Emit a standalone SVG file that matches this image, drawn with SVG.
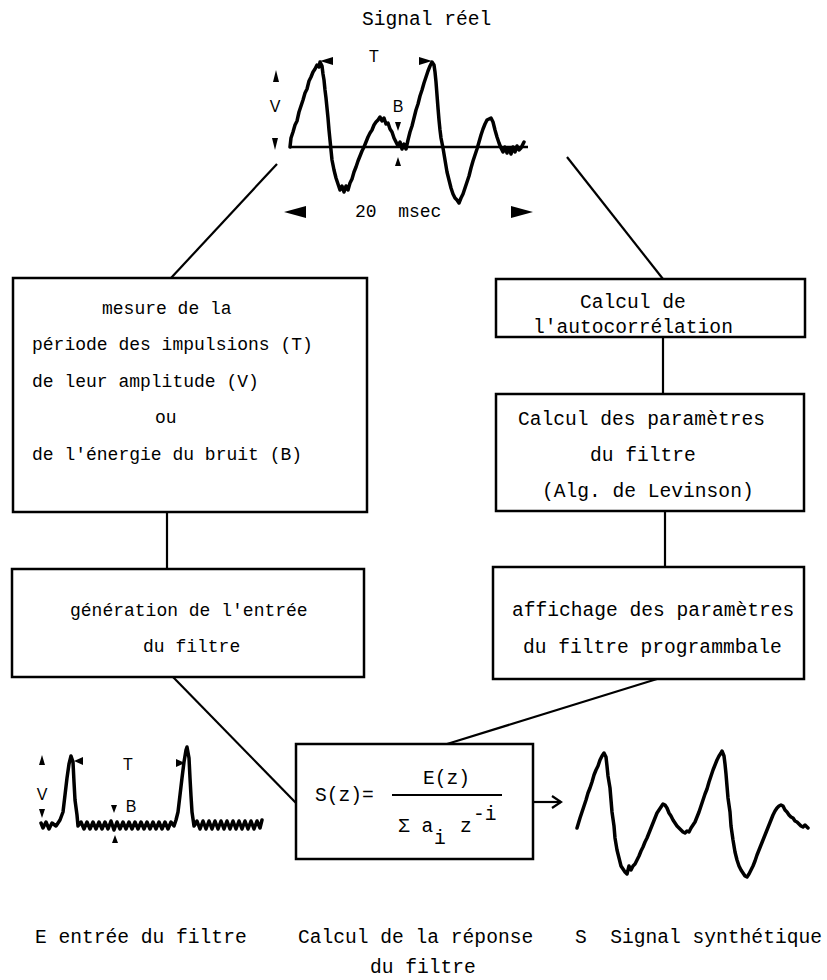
<svg xmlns="http://www.w3.org/2000/svg" width="827" height="980" viewBox="0 0 827 980">
<style>
.box{fill:none;stroke:#000;stroke-width:2.5}
.con{fill:none;stroke:#000;stroke-width:2.2}
.sig{fill:none;stroke:#000;stroke-width:3.5;stroke-linejoin:round;stroke-linecap:round}
.tl{font-family:"Liberation Mono","DejaVu Sans Mono",monospace;font-size:18px;fill:#000;white-space:pre}
.tr{font-family:"Liberation Mono","DejaVu Sans Mono",monospace;font-size:19.6px;fill:#000;white-space:pre}
.lab{font-family:"Liberation Sans",Arial,sans-serif;font-size:16px;fill:#000;text-anchor:middle}
.ah{fill:#000}
</style>
<rect width="827" height="980" fill="#fff"/>

<g id="top-signal">
<text class="tr" x="362" y="25">Signal réel</text>
<line x1="290" y1="147" x2="528" y2="147" stroke="#000" stroke-width="2.5"/>
<polyline class="sig" points="290,147 291,138 293,132 295,125 297,121 299,112 301,106 303,100 305,93 307,89 309,81 311,77 313,72 315,69 317,65 319,67 320,62 322,66 323,74 324,80 325,90 326,98 327,108 328,118 329,130 330,140 331,150 332,160 334,170 336,178 338,184 340,190 342,186 344,192 346,186 348,190 350,183 352,179 354,172 356,167 358,161 360,156 362,151 364,147 366,142 368,137 370,133 372,130 374,125 376,122 378,120 380,117 382,121 384,118 386,124 388,123 390,129 392,132 394,138 396,142 398,146 400,142 402,149 404,144 406,149 408,140 410,132 412,126 414,118 416,110 418,104 420,96 422,90 424,83 426,77 428,71 430,66 432,62 434,65 435,72 436,82 437,95 438,108 439,120 440,130 441,138 443,148 445,160 447,172 449,180 451,188 453,194 455,198 457,200 459,203 461,198 463,194 465,188 467,182 469,176 471,168 473,161 475,155 477,149 479,142 481,135 483,129 485,124 487,120 489,119 491,118 493,122 495,130 497,137 499,143 501,148 503,152 505,147 507,153 509,148 511,154 513,147 515,152 517,146 519,150 521,148 524,142"/>
<polygon class="ah" points="276,70 273,82 279,82"/>
<text class="lab" x="275" y="112">V</text>
<polygon class="ah" points="275,150 272,138 278,138"/>
<text class="lab" x="374" y="62">T</text>
<polygon class="ah" points="320,61 333,57 333,65"/>
<polygon class="ah" points="432,61 419,57 419,65"/>
<text class="lab" x="398" y="112">B</text>
<polygon class="ah" points="398,131 395,122 401,122"/>
<polygon class="ah" points="398,157 395,166 401,166"/>
<text class="tl" x="355" y="217">20  msec</text>
<polygon class="ah" points="284,212 306,206 306,218"/>
<polygon class="ah" points="533,212 511,206 511,218"/>
</g>

<g id="connectors">
<line class="con" x1="277" y1="164" x2="171" y2="278"/>
<line class="con" x1="567" y1="157" x2="663" y2="279"/>
<line class="con" x1="167" y1="512" x2="167" y2="569"/>
<line class="con" x1="663" y1="337" x2="663" y2="394"/>
<line class="con" x1="665" y1="511" x2="665" y2="567"/>
<line class="con" x1="173" y1="677" x2="296" y2="803"/>
<line class="con" x1="657" y1="679" x2="447" y2="744"/>
<line class="con" x1="534" y1="802" x2="561" y2="802"/>
<polyline class="con" points="552,796 561,802 552,808"/>
</g>

<g id="box-mesure">
<rect class="box" x="13" y="278" width="354" height="234"/>
<text class="tl" x="102" y="314">mesure de la</text>
<text class="tl" x="32" y="350">période des impulsions (T)</text>
<text class="tl" x="32" y="387">de leur amplitude (V)</text>
<text class="tl" x="155" y="423">ou</text>
<text class="tl" x="32" y="460">de l'énergie du bruit (B)</text>
</g>

<g id="box-generation">
<rect class="box" x="12" y="569" width="352" height="108"/>
<text class="tl" x="70" y="616">génération de l'entrée</text>
<text class="tl" x="143" y="652">du filtre</text>
</g>

<g id="box-autocorrelation">
<rect class="box" x="496" y="279" width="309" height="58"/>
<text class="tr" x="580" y="308">Calcul de</text>
<text class="tr" x="533" y="333">l'autocorrélation</text>
</g>

<g id="box-parametres">
<rect class="box" x="496" y="394" width="308" height="117"/>
<text class="tr" x="518" y="425">Calcul des paramètres</text>
<text class="tr" x="590" y="461">du filtre</text>
<text class="tr" x="542" y="497">(Alg. de Levinson)</text>
</g>

<g id="box-affichage">
<rect class="box" x="493" y="567" width="311" height="112"/>
<text class="tr" x="512" y="616">affichage des paramètres</text>
<text class="tr" x="523" y="653">du filtre programmbale</text>
</g>

<g id="box-formule">
<rect class="box" x="296" y="744" width="237" height="115"/>
<text class="tr" x="315" y="801">S(z)=</text>
<text class="tr" x="423" y="784">E(z)</text>
<line x1="392" y1="795" x2="502" y2="795" stroke="#000" stroke-width="2"/>
<text class="tr" x="398" y="832">Σ a</text>
<text class="tr" x="434" y="844">i</text>
<text class="tr" x="460" y="832">z</text>
<text class="tr" x="473" y="820">-i</text>
</g>

<g id="input-signal">
<polyline class="sig" points="41,823 43,828 46,822 49,829 52,823 56,826 60,820 63,812 65,795 67,778 69,764 71,756 73,762 74,782 75,800 77,815 78,826 81,822 84,829 87,822 90,829 93,822 96,829 99,822 102,829 105,822 108,829 111,821 114,830 117,822 120,829 123,822 126,829 129,822 132,829 135,822 138,829 141,822 144,829 147,822 150,829 153,822 156,829 159,822 162,829 165,822 168,829 171,822 174,826 176,820 178,812 180,795 182,778 184,762 186,750 187,747 189,758 190,778 191,796 192,812 194,826 197,821 200,829 203,821 206,829 209,821 212,829 215,821 218,829 221,821 224,829 227,821 230,829 233,821 236,829 239,821 242,829 245,821 248,829 251,821 254,829 257,821 260,828 262,820"/>
<polygon class="ah" points="42,755 39,765 45,765"/>
<text class="lab" x="42" y="800">V</text>
<polygon class="ah" points="42,818 39,809 45,809"/>
<text class="lab" x="128" y="770">T</text>
<polygon class="ah" points="74,761 83,757 83,765"/>
<polygon class="ah" points="185,763 176,759 176,767"/>
<text class="lab" x="131" y="812">B</text>
<polygon class="ah" points="114,813 111,805 117,805"/>
<polygon class="ah" points="115,835 112,843 118,843"/>
</g>

<g id="output-signal">
<polyline class="sig" points="577,828 580,818 582,812 584,806 586,800 588,793 590,788 592,782 594,775 596,770 598,766 600,760 602,756 604,753 606,757 607,766 608,776 610,788 611,800 612,812 614,826 615,838 617,850 619,858 621,866 623,869 625,872 627,874 629,866 631,870 633,866 635,864 637,860 639,856 641,851 643,847 645,842 647,838 649,833 651,828 653,823 655,818 657,813 659,810 661,807 663,804 665,805 667,808 669,813 671,816 673,820 675,823 677,826 679,828 681,830 683,832 685,833 687,831 689,832 691,828 693,825 695,822 697,817 699,812 701,806 703,800 705,794 707,789 709,782 711,776 713,770 715,765 717,760 719,756 721,753 722,751 724,756 725,764 726,774 727,786 728,798 730,812 731,826 733,840 735,852 737,860 739,866 741,870 743,873 745,876 747,877 749,874 751,870 753,866 755,861 757,855 759,850 761,845 763,840 765,835 767,830 769,825 771,820 773,815 775,811 777,808 779,806 781,805 783,806 785,810 787,812 789,815 791,817 793,818 795,821 797,822 799,824 801,826 803,827 805,825 808,828"/>
</g>

<g id="captions">
<text class="tr" x="35" y="943">E entrée du filtre</text>
<text class="tr" x="298" y="943">Calcul de la réponse</text>
<text class="tr" x="575" y="943">S  Signal synthétique</text>
<text class="tr" x="370" y="973">du filtre</text>
</g>
</svg>
